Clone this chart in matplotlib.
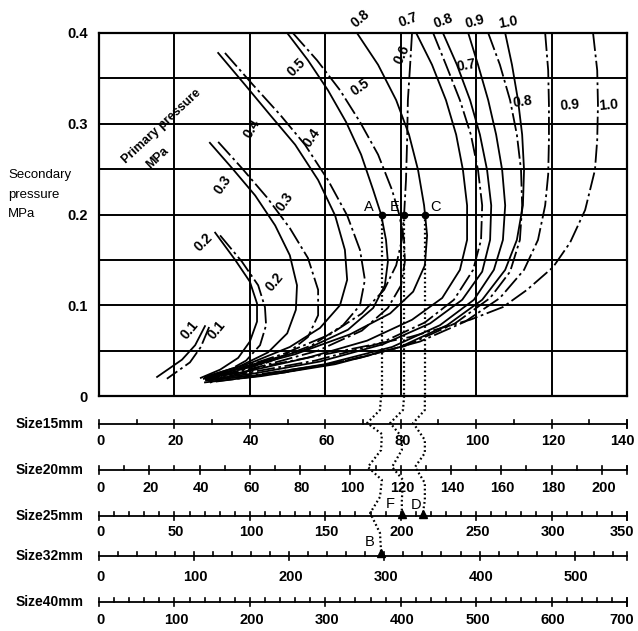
import matplotlib.pyplot as plt

plt.rcParams['font.family'] = ['Liberation Sans', 'DejaVu Sans']

# flow curves: x on the Size15mm flow scale, y = secondary pressure (MPa)
solid_x = {
    0.1: [28.1, 25.5, 22.0, 15.4],
    0.2: [30.8, 36.1, 40.0, 41.9, 41.9, 40.0, 36.9, 32.1, 27.0],
    0.3: [29.4, 35.3, 41.4, 46.7, 50.6, 52.5, 52.2, 49.9, 44.8, 37.4, 28.1],
    0.4: [31.6, 38.7, 45.3, 52.0, 58.1, 62.6, 65.2, 65.8, 63.9, 58.6, 50.6, 40.0, 28.9],
    0.5: [49.9, 55.4, 60.7, 65.5, 69.5, 72.7, 74.8, 76.1, 76.6, 75.8, 72.7, 66.0, 54.6, 40.0, 29.4],
    0.6: [68.4, 74.0, 78.8, 82.2, 84.6, 86.2, 87.0, 86.4, 83.3, 77.2, 66.6, 52.0, 37.4, 28.1],
    0.7: [84.1, 88.3, 92.0, 94.7, 96.5, 97.6, 97.6, 95.7, 91.0, 83.0, 71.1, 55.2, 39.2, 27.8],
    0.8: [91.2, 94.9, 98.4, 101.0, 102.9, 104.0, 103.7, 101.6, 96.3, 87.8, 75.3, 58.6, 41.4, 28.6],
    0.9: [97.9, 100.5, 103.2, 105.3, 106.9, 107.7, 107.1, 104.7, 99.4, 90.4, 77.7, 59.9, 42.2, 28.4],
    1.0: [107.7, 109.5, 111.1, 112.2, 112.7, 112.4, 110.8, 107.7, 101.6, 92.3, 79.8, 62.6, 43.2, 28.1],
}
solid_y = {
    0.1: [0.077, 0.056, 0.040, 0.021],
    0.2: [0.180, 0.150, 0.126, 0.102, 0.082, 0.060, 0.042, 0.029, 0.020],
    0.3: [0.279, 0.251, 0.221, 0.188, 0.155, 0.122, 0.095, 0.069, 0.048, 0.033, 0.021],
    0.4: [0.378, 0.343, 0.310, 0.277, 0.238, 0.199, 0.161, 0.128, 0.100, 0.075, 0.054, 0.036, 0.022],
    0.5: [0.400, 0.370, 0.337, 0.302, 0.266, 0.227, 0.200, 0.172, 0.148, 0.122, 0.097, 0.073, 0.051, 0.034, 0.021],
    0.6: [0.400, 0.365, 0.326, 0.288, 0.249, 0.210, 0.177, 0.144, 0.115, 0.091, 0.068, 0.046, 0.030, 0.020],
    0.7: [0.400, 0.365, 0.326, 0.288, 0.249, 0.210, 0.172, 0.139, 0.108, 0.084, 0.061, 0.042, 0.027, 0.019],
    0.8: [0.400, 0.365, 0.326, 0.288, 0.249, 0.210, 0.172, 0.137, 0.106, 0.080, 0.057, 0.038, 0.025, 0.018],
    0.9: [0.400, 0.365, 0.326, 0.288, 0.249, 0.210, 0.172, 0.139, 0.106, 0.078, 0.054, 0.035, 0.023, 0.017],
    1.0: [0.400, 0.365, 0.326, 0.288, 0.249, 0.210, 0.172, 0.139, 0.106, 0.078, 0.054, 0.035, 0.022, 0.015],
}
dash_x = {
    0.1: [29.2, 27.0, 24.1, 18.0],
    0.2: [32.1, 37.9, 42.2, 44.0, 44.3, 42.7, 39.0, 33.4, 28.1],
    0.3: [31.6, 37.9, 44.5, 50.6, 55.4, 58.1, 58.1, 55.4, 49.3, 40.0, 29.4],
    0.4: [33.4, 40.8, 48.0, 54.6, 60.7, 65.8, 69.2, 70.5, 69.2, 64.7, 56.5, 44.0, 30.0],
    0.5: [51.4, 57.8, 63.9, 69.2, 74.0, 77.7, 79.6, 80.9, 81.1, 80.1, 76.6, 69.7, 58.1, 43.2, 30.5],
    0.6: [83.0, 82.5, 81.9, 81.7, 81.4, 80.9, 80.3, 78.8, 75.6, 69.7, 61.3, 49.3, 37.4, 28.6],
    0.7: [88.6, 92.0, 95.7, 98.6, 100.5, 101.6, 101.3, 99.2, 94.1, 86.4, 74.5, 57.3, 40.0, 28.1],
    0.8: [103.2, 106.3, 109.0, 110.8, 111.9, 112.2, 111.6, 109.0, 103.7, 94.4, 81.1, 62.6, 42.7, 28.9],
    0.9: [118.3, 119.1, 119.3, 119.3, 119.1, 118.3, 116.4, 112.7, 106.3, 97.1, 85.1, 69.2, 49.3, 29.4],
    1.0: [131.0, 132.1, 132.3, 132.1, 131.5, 128.9, 124.9, 120.4, 113.5, 107.1, 98.4, 82.5, 61.3, 42.7, 29.4],
}
dash_y = {
    0.1: [0.076, 0.054, 0.037, 0.019],
    0.2: [0.177, 0.148, 0.122, 0.098, 0.078, 0.056, 0.039, 0.026, 0.019],
    0.3: [0.280, 0.251, 0.219, 0.185, 0.152, 0.117, 0.089, 0.065, 0.045, 0.031, 0.020],
    0.4: [0.378, 0.343, 0.310, 0.277, 0.238, 0.199, 0.161, 0.128, 0.100, 0.078, 0.056, 0.036, 0.021],
    0.5: [0.400, 0.370, 0.337, 0.302, 0.266, 0.227, 0.200, 0.172, 0.148, 0.122, 0.097, 0.072, 0.050, 0.033, 0.020],
    0.6: [0.400, 0.365, 0.326, 0.282, 0.238, 0.200, 0.172, 0.144, 0.117, 0.091, 0.068, 0.047, 0.031, 0.019],
    0.7: [0.400, 0.365, 0.326, 0.288, 0.249, 0.210, 0.172, 0.139, 0.106, 0.081, 0.058, 0.039, 0.026, 0.018],
    0.8: [0.400, 0.365, 0.326, 0.288, 0.249, 0.210, 0.172, 0.137, 0.108, 0.080, 0.055, 0.036, 0.024, 0.017],
    0.9: [0.400, 0.359, 0.321, 0.282, 0.244, 0.210, 0.172, 0.139, 0.108, 0.082, 0.060, 0.042, 0.026, 0.015],
    1.0: [0.400, 0.359, 0.321, 0.282, 0.249, 0.205, 0.169, 0.142, 0.117, 0.098, 0.084, 0.065, 0.047, 0.032, 0.015],
}

# curve labels: text, x, y, rotation
left_labels = [('0.1', 24.1, 0.073, 50), ('0.2', 27.6, 0.169, 45), ('0.3', 32.9, 0.233, 55),
               ('0.4', 40.6, 0.295, 60), ('0.5', 52.5, 0.362, 45), ('0.8', 69.2, 0.416, 40),
               ('0.7', 81.9, 0.414, 20), ('0.8', 91.2, 0.413, 20), ('0.9', 99.7, 0.412, 15),
               ('1.0', 108.5, 0.412, 10)]
right_labels = [('0.1', 31.3, 0.073, 50), ('0.2', 46.7, 0.126, 50), ('0.3', 49.3, 0.214, 55),
                ('0.4', 56.5, 0.285, 55), ('0.5', 69.2, 0.340, 35), ('0.6', 80.3, 0.376, 65),
                ('0.7', 97.3, 0.364, 10), ('0.8', 112.2, 0.324, 8), ('0.9', 124.9, 0.321, 5),
                ('1.0', 135.0, 0.321, 5)]

# operating points at 0.2 MPa secondary pressure
pt_names = ['A', 'E', 'C']
pt_x = [75.0, 80.9, 86.4]
pt_y = [0.2, 0.2, 0.2]

# size scales below the chart
scale_names = ['Size15mm', 'Size20mm', 'Size25mm', 'Size32mm', 'Size40mm']
scale_max = [140, 210, 350, 555, 700]
scale_minor = [10, 10, 10, 20, 20]
scale_major = [20, 20, 50, 100, 100]
scale_labels = [list(range(0, 141, 20)), list(range(0, 201, 20)), list(range(0, 351, 50)),
                list(range(0, 501, 100)), list(range(0, 701, 100))]
scale_row = [424, 470, 516, 556, 602]
label_row = [441, 488, 532, 577, 620]

# dotted read-off lines (x in Size15mm units, y in rows of the scale panel)
dotA_x = [74.8, 74.5, 71.1, 75.0, 74.8, 71.3, 75.0, 74.5, 71.9, 74.5, 74.8]
dotA_y = [396, 410, 423, 434, 450, 467, 480, 497, 513, 533, 552]
dotE_x = [80.9, 80.6, 77.2, 80.3, 80.3, 77.7, 80.6, 80.3, 80.3]
dotE_y = [396, 410, 423, 437, 450, 467, 480, 500, 513]
dotC_x = [86.4, 86.4, 83.3, 86.4, 86.4, 83.8, 86.4, 86.4, 85.9]
dotC_y = [396, 410, 423, 440, 453, 467, 483, 500, 513]
mark_names = ['B', 'F', 'D']
mark_x = [74.8, 80.3, 85.9]
mark_y = [553, 514, 514]

W, H = 638, 631
fig = plt.figure(figsize=(W / 100, H / 100), dpi=100)
ax = fig.add_axes([99 / W, 1 - 396 / H, 528 / W, 363 / H])
ax.set_xlim(0, 140)
ax.set_ylim(0, 0.4)
ax.set_xticks(range(0, 141, 20))
ax.set_yticks([i * 0.05 for i in range(9)])
ax.set_yticklabels(['0', '', '0.1', '', '0.2', '', '0.3', '', '0.4'],
                   fontsize=10.5, fontweight='bold')
ax.tick_params(axis='both', length=0, pad=8)
ax.tick_params(axis='x', labelbottom=False)
ax.grid(True, color='black', lw=1.4)
for sp in ax.spines.values():
    sp.set_linewidth(1.6)

for p in solid_x:
    ax.plot(solid_x[p], solid_y[p], color='black', lw=1.3, solid_joinstyle='round')
    ax.plot(dash_x[p], dash_y[p], color='black', lw=1.3, ls=(0, (10, 2, 1.5, 2)))

for t, x, y, r in left_labels + right_labels:
    ax.text(x, y, t, rotation=r, ha='center', va='center', fontsize=10,
            fontweight='bold', clip_on=False)

ax.text(16.7, 0.2975, 'Primary pressure', rotation=43, ha='center', va='center',
        fontsize=9, fontweight='bold')
ax.text(15.6, 0.262, 'MPa', rotation=43, ha='center', va='center',
        fontsize=9, fontweight='bold')

for x in pt_x:
    ax.plot([x, x], [0.2, 0], color='black', lw=1.6, ls=(0, (0.8, 1.2)))
ax.plot(pt_x, pt_y, 'o', color='black', ms=4.5)
ax.text(pt_x[0] - 3.5, 0.208, pt_names[0], ha='center', va='center', fontsize=10.5)
ax.text(pt_x[1] - 2.5, 0.208, pt_names[1], ha='center', va='center', fontsize=10.5)
ax.text(pt_x[2] + 2.8, 0.208, pt_names[2], ha='center', va='center', fontsize=10.5)

# y axis title, one text per line
for txt, row in [('Secondary', 175), ('pressure', 195), ('MPa', 214)]:
    fig.text(8 / W, 1 - row / H, txt, ha='left', va='center', fontsize=9.5)

# scale panel
axb = fig.add_axes([99 / W, 0, 528 / W, 235 / H])
axb.set_xlim(0, 140)
axb.set_ylim(631, 396)
axb.axis('off')
axb.patch.set_alpha(0)

for i in range(len(scale_names)):
    k = 140 / scale_max[i]
    row = scale_row[i]
    axb.plot([0, 140], [row, row], color='black', lw=1.3, clip_on=False)
    v = 0
    while v <= scale_max[i]:
        if v % scale_major[i] == 0:
            axb.plot([v * k, v * k], [row - 4, row + 4], color='black', lw=1.2, clip_on=False)
        else:
            axb.plot([v * k, v * k], [row - 4, row], color='black', lw=1.2, clip_on=False)
        v += scale_minor[i]
    axb.plot([140, 140], [row - 4, row + 4], color='black', lw=1.2, clip_on=False)
    for v in scale_labels[i]:
        xt = v * k + 0.4
        if v * k > 138:
            xt = v * k - 1.3
        axb.text(xt, label_row[i], str(v), ha='center', va='center',
                 fontsize=10.5, fontweight='bold', clip_on=False)
    axb.text(-4.2, row, scale_names[i], ha='right', va='center', fontsize=10,
             fontweight='bold', clip_on=False)

for xs, ys in [(dotA_x, dotA_y), (dotE_x, dotE_y), (dotC_x, dotC_y)]:
    axb.plot(xs, ys, color='black', lw=1.6, ls=(0, (0.8, 1.2)), clip_on=False)
axb.plot(mark_x, mark_y, '^', color='black', ms=6, clip_on=False)
axb.text(mark_x[0] - 3, 542, mark_names[0], ha='center', va='center', fontsize=10.5)
axb.text(mark_x[1] - 3.2, 504, mark_names[1], ha='center', va='center', fontsize=10.5)
axb.text(mark_x[2] - 1.8, 505, mark_names[2], ha='center', va='center', fontsize=10.5)

fig.savefig('out.png', dpi=100, facecolor='white')
